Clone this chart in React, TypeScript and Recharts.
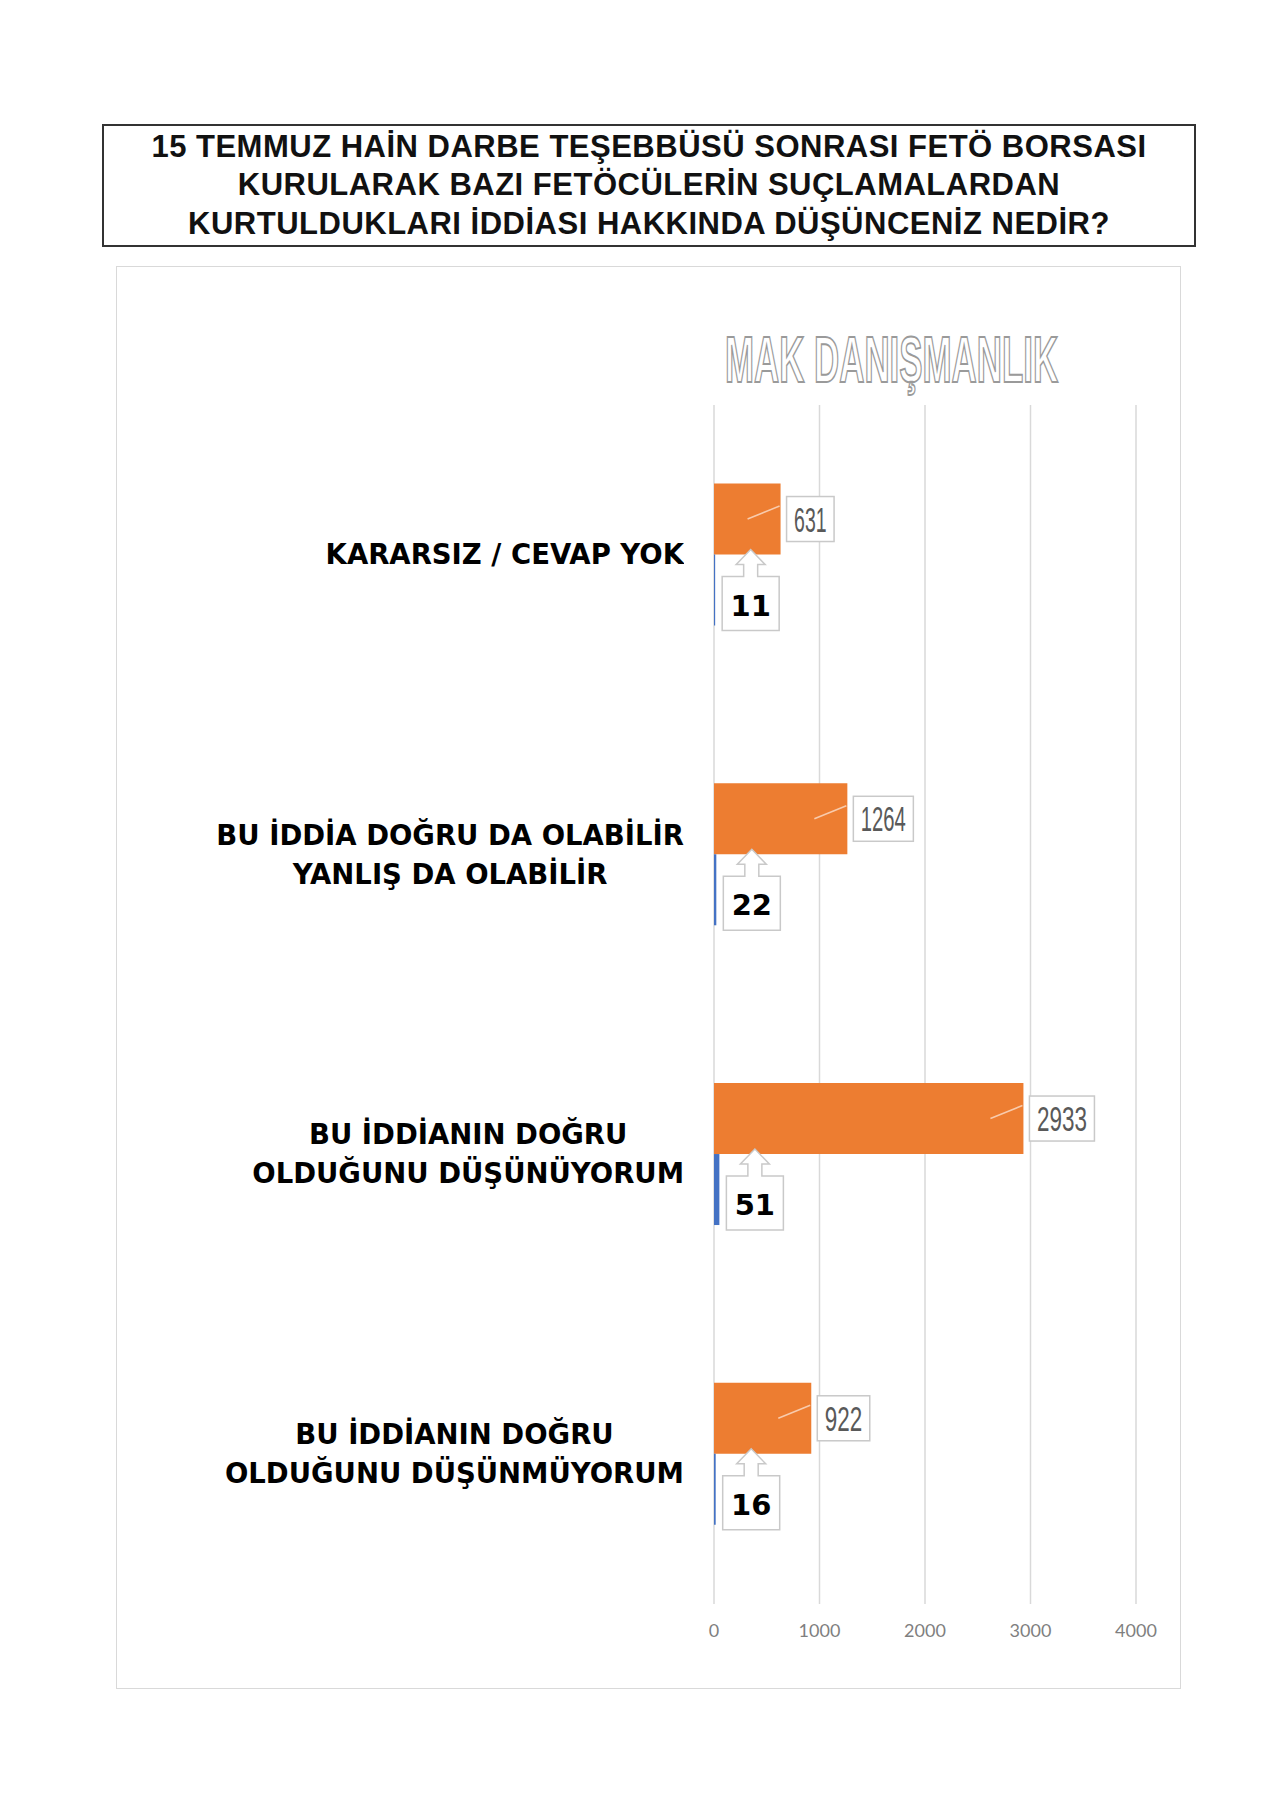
import React from "react";
import { BarChart, Bar, XAxis, YAxis, CartesianGrid, LabelList } from "recharts";

const TITLE_LINES = [
  "15 TEMMUZ HAİN DARBE TEŞEBBÜSÜ SONRASI FETÖ BORSASI",
  "KURULARAK BAZI FETÖCÜLERİN SUÇLAMALARDAN",
  "KURTULDUKLARI İDDİASI HAKKINDA DÜŞÜNCENİZ NEDİR?",
];

const CATEGORIES = [
  "KARARSIZ / CEVAP YOK",
  "BU İDDİA DOĞRU DA OLABİLİR\nYANLIŞ DA OLABİLİR",
  "BU İDDİANIN DOĞRU\nOLDUĞUNU DÜŞÜNÜYORUM",
  "BU İDDİANIN DOĞRU\nOLDUĞUNU DÜŞÜNMÜYORUM",
];
const COUNTS = [631, 1264, 2933, 922];
const PERCENTS = [11, 22, 51, 16];
const X_TICKS = [0, 1000, 2000, 3000, 4000];

const ORANGE = "#ED7D31";
const BLUE = "#4472C4";

const data = CATEGORIES.map((name, i) => ({ name, count: COUNTS[i], pct: PERCENTS[i] }));

function CategoryTick(props: any) {
  const { x, y, payload } = props;
  return (
    <foreignObject x={0} y={y - 60} width={x - 30} height={120}>
      <div
        style={{
          display: "flex",
          justifyContent: "flex-end",
          alignItems: "center",
          height: "100%",
        }}
      >
        <div
          style={{
            textAlign: "center",
            whiteSpace: "pre-line",
            fontFamily: "'DejaVu Sans', sans-serif",
            fontWeight: 700,
            fontSize: 27.5,
            lineHeight: "39px",
            color: "#000",
          }}
        >
          {payload.value}
        </div>
      </div>
    </foreignObject>
  );
}

// narrow, tall digits like the original's condensed face; "1" is thinner
function digitsWidth(s: string) {
  let w = 0;
  for (const ch of s) w += ch === "1" ? 7.5 : 12.5;
  return w;
}

function CountLabel(props: any) {
  const { x, y, width, height, value } = props;
  const end = x + width;
  const cy = y + height / 2;
  const txt = String(value);
  const tw = digitsWidth(txt);
  const bw = tw + 15;
  const bx = end + 6;
  return (
    <g>
      <line x1={end - 33} y1={cy} x2={end - 1} y2={cy - 13} stroke="#f8cbad" strokeWidth={1.5} />
      <rect x={bx} y={cy - 22.5} width={bw} height={45} fill="#fff" stroke="#c9c9c9" strokeWidth={1.5} />
      <text
        x={bx + 7.5}
        y={cy + 12.5}
        fontFamily="'Liberation Sans', sans-serif"
        fontSize={35}
        fill="#595959"
        textLength={tw}
        lengthAdjust="spacingAndGlyphs"
      >
        {txt}
      </text>
    </g>
  );
}

function PctLabel(props: any) {
  const { x, y, width, value } = props;
  const L = x + width + 7;
  const W = 57;
  const R = L + W;
  const cx = L + W / 2;
  const T = y + 22;
  const B = T + 54;
  const hb = y + 10;
  const tip = y - 5;
  const d = `M${L},${T} L${cx - 7},${T} L${cx - 7},${hb} L${cx - 14.5},${hb} L${cx},${tip} L${cx + 14.5},${hb} L${cx + 7},${hb} L${cx + 7},${T} L${R},${T} L${R},${B} L${L},${B} Z`;
  return (
    <g>
      <path d={d} fill="#fff" stroke="#c9c9c9" strokeWidth={1.5} />
      <text
        x={cx}
        y={T + 39}
        textAnchor="middle"
        fontFamily="'DejaVu Sans', sans-serif"
        fontWeight={700}
        fontSize={29}
        fill="#000"
      >
        {value}
      </text>
    </g>
  );
}

export default function App() {
  return (
    <div style={{ position: "absolute", left: 0, top: 0, width: 1280, height: 1807, background: "#fff" }}>
      <div
        style={{
          position: "absolute",
          left: 102,
          top: 124,
          width: 1094,
          height: 123,
          boxSizing: "border-box",
          border: "2px solid #333",
          display: "flex",
          flexDirection: "column",
          alignItems: "center",
          justifyContent: "center",
          fontFamily: "'Liberation Sans', Arial, sans-serif",
          fontWeight: 700,
          fontSize: 31,
          letterSpacing: 0.5,
          lineHeight: "38.5px",
          color: "#111",
        }}
      >
        {TITLE_LINES.map((t) => (
          <div key={t}>{t}</div>
        ))}
      </div>

      <div
        style={{
          position: "absolute",
          left: 116,
          top: 266,
          width: 1065,
          height: 1423,
          boxSizing: "border-box",
          border: "1px solid #d9d9d9",
        }}
      >
        <BarChart
          width={1063}
          height={1421}
          data={data}
          layout="vertical"
          margin={{ top: 138, right: 44, bottom: 44, left: 0 }}
          barCategoryGap="26.2%"
          barGap={0}
        >
          <CartesianGrid horizontal={false} stroke="#d9d9d9" strokeWidth={1.5} />
          <XAxis
            type="number"
            domain={[0, 4000]}
            ticks={X_TICKS}
            axisLine={false}
            tickLine={false}
            tickSize={0}
            tickMargin={20}
            height={40}
            tick={{ fontFamily: "Lato, sans-serif", fontSize: 18, fill: "#7f7f7f" }}
          />
          <YAxis
            type="category"
            dataKey="name"
            width={597}
            axisLine={false}
            tickLine={false}
            tickSize={0}
            tickMargin={0}
            interval={0}
            tick={<CategoryTick />}
          />
          <Bar dataKey="count" fill={ORANGE} isAnimationActive={false}>
            <LabelList dataKey="count" content={<CountLabel />} />
          </Bar>
          <Bar dataKey="pct" fill={BLUE} isAnimationActive={false}>
            <LabelList dataKey="pct" content={<PctLabel />} />
          </Bar>
        </BarChart>
        <svg
          width={1063}
          height={200}
          style={{ position: "absolute", left: 0, top: 0, pointerEvents: "none" }}
        >
          <g transform="translate(608,115) scale(0.545,1)">
            <text
              x={0}
              y={0}
              fontFamily="'Liberation Sans', sans-serif"
              fontWeight={700}
              fontSize={64}
              fill="#fff"
              stroke="#9a9a9a"
              strokeWidth={1.6}
              vectorEffect="non-scaling-stroke"
            >
              MAK DANIŞMANLIK
            </text>
          </g>
        </svg>
      </div>
    </div>
  );
}
